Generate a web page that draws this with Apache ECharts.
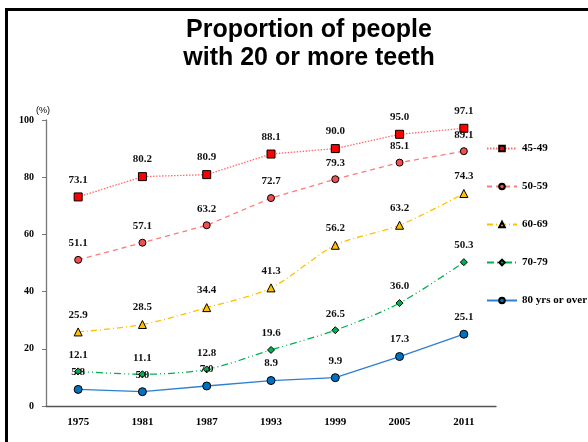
<!DOCTYPE html>
<html>
<head>
<meta charset="utf-8">
<script src="https://cdn.jsdelivr.net/npm/echarts@6/dist/echarts.min.js"></script>
<style>
  html, body { margin: 0; padding: 0; background: #fff; }
  #chart { width: 588px; height: 442px; }
</style>
</head>
<body>
<div id="chart"></div>
<script>
// survey years
var years = ['1975', '1981', '1987', '1993', '1999', '2005', '2011'];

// % with 20 or more teeth, by age group
var age45 = [73.1, 80.2, 80.9, 88.1, 90.0, 95.0, 97.1];
var age50 = [51.1, 57.1, 63.2, 72.7, 79.3, 85.1, 89.1];
var age60 = [25.9, 28.5, 34.4, 41.3, 56.2, 63.2, 74.3];
var age70 = [12.1, 11.1, 12.8, 19.6, 26.5, 36.0, 50.3];
var age80 = [5.8, 5.0, 7.0, 8.9, 9.9, 17.3, 25.1];

var serif = '"Liberation Serif", "Times New Roman", serif';

function makeSeries(name, values, symbol, size, fill, lineColor, dash, smooth) {
    return {
        name: name,
        type: 'line',
        data: values,
        symbol: symbol,
        symbolSize: size,
        smooth: smooth,
        itemStyle: { color: fill, borderColor: '#000', borderWidth: 1 },
        lineStyle: { color: lineColor, width: 1.3, type: dash },
        label: {
            show: true,
            position: 'top',
            distance: 7,
            formatter: function (p) { return p.value.toFixed(1); },
            fontFamily: serif,
            fontWeight: 'bold',
            fontSize: 11,
            color: '#111'
        }
    };
}

var chart = echarts.init(document.getElementById('chart'));

chart.setOption({
    animation: false,
    title: {
        text: 'Proportion of people\nwith 20 or more teeth',
        left: 304,
        textAlign: 'center',
        top: 11,
        textStyle: {
            fontFamily: '"Liberation Sans", Arial, sans-serif',
            fontWeight: 'bold',
            fontSize: 25,
            lineHeight: 28,
            color: '#000'
        }
    },
    graphic: [{
        type: 'rect',
        shape: { x: 6.5, y: 9.5, width: 700, height: 600 },
        style: { fill: 'none', stroke: '#000', lineWidth: 3 }
    }],
    legend: {
        orient: 'vertical',
        left: 481,
        top: 138,
        itemWidth: 30,
        itemHeight: 7,
        itemGap: 27,
        textStyle: {
            fontFamily: serif,
            fontWeight: 'bold',
            fontSize: 11,
            color: '#000'
        },
        data: ['45-49', '50-59', '60-69', '70-79', '80 yrs or over']
    },
    grid: { left: 46, right: 92, top: 120, bottom: 36 },
    xAxis: {
        type: 'category',
        data: years,
        axisLine: { lineStyle: { color: '#555', width: 1.3 } },
        axisTick: { show: false },
        axisLabel: {
            fontFamily: serif,
            fontWeight: 'bold',
            fontSize: 11,
            color: '#000',
            margin: 11
        }
    },
    yAxis: {
        type: 'value',
        min: 0,
        max: 100,
        interval: 20,
        name: '(%)',
        nameLocation: 'end',
        nameGap: 4,
        nameTextStyle: {
            fontFamily: '"Liberation Sans", Arial, sans-serif',
            fontSize: 9,
            color: '#000',
            align: 'left',
            padding: [0, 0, 0, -10]
        },
        splitLine: { show: false },
        axisLine: { show: true, lineStyle: { color: '#777', width: 1.3 } },
        axisTick: { show: true, length: 4, lineStyle: { color: '#777' } },
        axisLabel: {
            fontFamily: serif,
            fontWeight: 'bold',
            fontSize: 10,
            color: '#000',
            margin: 12
        }
    },
    series: [
        makeSeries('45-49', age45, 'rect', 8, '#ff0000', '#ff6b6b', [1.5, 1.5], false),
        makeSeries('50-59', age50, 'circle', 7, '#f05050', '#ff7a7a', [5, 4], false),
        makeSeries('60-69', age60, 'triangle', 8, '#ffc000', '#ffc000', [6, 3, 1, 3], 0.3),
        makeSeries('70-79', age70, 'diamond', 7, '#00b050', '#00b050', [7, 3, 1, 3, 1, 3], 0.3),
        makeSeries('80 yrs or over', age80, 'circle', 8, '#0070c0', '#2e7fd0', 'solid', false)
    ]
});
</script>
</body>
</html>
